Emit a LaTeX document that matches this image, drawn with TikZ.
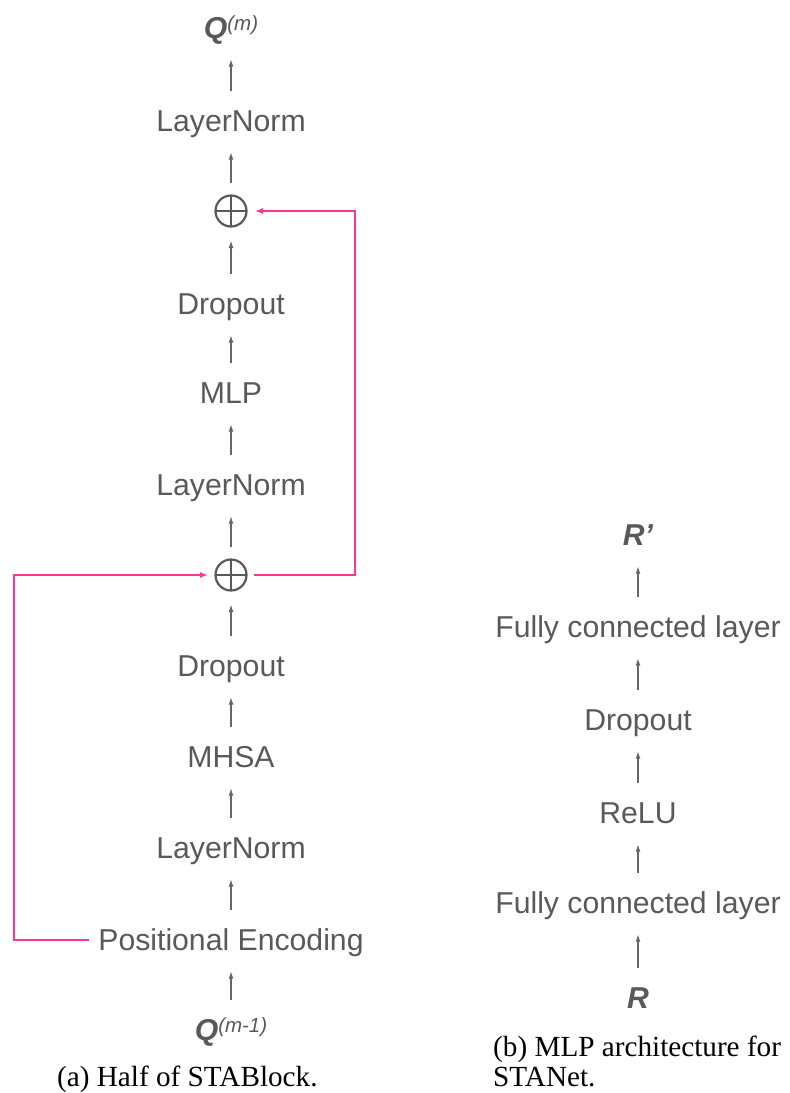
\documentclass[tikz,border=0pt]{standalone}
\usepackage{fontspec}
\setmainfont{Liberation Sans}
\newfontfamily\capfont{Liberation Serif}
\usetikzlibrary{arrows.meta}
\definecolor{txtgray}{RGB}{89,89,89}
\definecolor{arrgray}{RGB}{102,102,102}
\definecolor{skip}{RGB}{255,51,153}
% superscript attached to a bold symbol
\newcommand\expsup[1]{\raisebox{8.5pt}{\fontsize{20.5}{20.5}\selectfont\mdseries\itshape #1}}
\begin{document}
\begin{tikzpicture}[x=1pt,y=-1pt,
  lbl/.style={text=txtgray, font=\fontsize{30.2}{34}\selectfont, inner sep=0pt,
    text height=21.5pt, text depth=0pt, minimum height=40pt},
  sym/.style={lbl, font=\fontsize{30.2}{34}\selectfont\bfseries\itshape},
  plus/.style={circle, draw=txtgray, line width=2.2pt, minimum size=31pt,
    inner sep=0pt, outer sep=3pt,
    path picture={\draw[txtgray, line width=2.2pt]
      (path picture bounding box.north) -- (path picture bounding box.south)
      (path picture bounding box.west) -- (path picture bounding box.east);}},
  flow/.style={draw=arrgray, line width=1.2pt, -{Latex[length=7.5pt,width=5pt]},
    shorten <=10pt, shorten >=11pt},
  res/.style={draw=skip, line width=1.5pt, -{Latex[length=8pt,width=6pt]}},
  captext/.style={font=\capfont\fontsize{29.2}{34}\selectfont, inner sep=0pt, anchor=base west}
]
\useasboundingbox (0,0) rectangle (790,1093);

% ---- (a) half of STABlock ----
\node[sym] (qout) at (231,28) {Q\expsup{(m)}};
\node[lbl] (ln3) at (231,121) {LayerNorm};
\node[plus] (add1) at (231,211) {};
\node[lbl] (drop2) at (231,304) {Dropout};
\node[lbl] (mlp) at (231,393) {MLP};
\node[lbl] (ln2) at (231,485) {LayerNorm};
\node[plus] (add2) at (231,575) {};
\node[lbl] (drop1) at (231,666) {Dropout};
\node[lbl] (mhsa) at (231,757) {MHSA};
\node[lbl] (ln1) at (231,848) {LayerNorm};
\node[lbl] (pe) at (231,940) {Positional Encoding};
\node[sym] (qin) at (231,1030) {Q\expsup{(m-1)}};

\foreach \a/\b in {qin/pe, pe/ln1, ln1/mhsa, mhsa/drop1, drop1/add2, add2/ln2,
                   ln2/mlp, mlp/drop2, drop2/add1, add1/ln3, ln3/qout}
  \draw[flow] (\a) -- (\b);

% residual connections
\coordinate (rx) at (355,0);
\coordinate (lx) at (14,0);
\draw[res, shorten <=4pt, shorten >=5.5pt] (add2.east) -- (add2 -| rx) -- (add1 -| rx) -- (add1.east);
\draw[res, shorten <=9pt, shorten >=4.5pt] (pe.west) -- (pe -| lx) -- (add2 -| lx) -- (add2.west);

% ---- (b) MLP ----
\node[sym] (rout) at (638,535) {R’};
\node[lbl] (fc2) at (638,627) {Fully connected layer};
\node[lbl] (drop) at (638,720) {Dropout};
\node[lbl] (relu) at (638,813) {ReLU};
\node[lbl] (fc1) at (638,903) {Fully connected layer};
\node[sym] (rin) at (638,998) {R};

\foreach \a/\b in {rin/fc1, fc1/relu, relu/drop, drop/fc2, fc2/rout}
  \draw[flow] (\a) -- (\b);

% ---- captions ----
\node[captext] (capa) at (57,1086) {(a) Half of STABlock.};
\node[captext] (capb1) at (493,1056) {(b) MLP architecture for};
\node[captext] (capb2) at (493,1086) {STANet.};
\end{tikzpicture}
\end{document}
